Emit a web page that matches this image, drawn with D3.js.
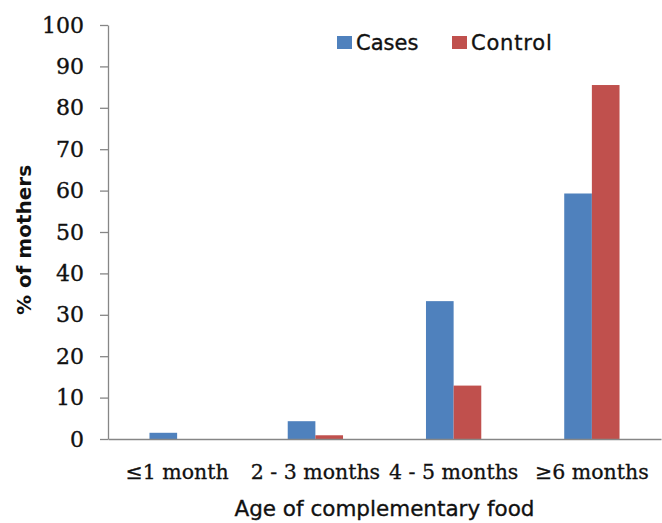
<!DOCTYPE html>
<html><head><meta charset="utf-8">
<script src="https://cdn.jsdelivr.net/npm/d3@7"></script>
<style>body{margin:0;background:#fff}</style>
</head><body>
<svg id="chart" width="662" height="523"></svg>
<script>
const categories = ["≤1 month", "2 - 3 months", "4 - 5 months", "≥6 months"];
const seriesNames = ["Cases", "Control"];
const cases = [1.5, 4.3, 33.3, 59.3];
const control = [0, 0.9, 12.9, 85.5];
const yTicks = [0, 10, 20, 30, 40, 50, 60, 70, 80, 90, 100];
const colors = ["#4F81BD", "#C0504D"];

const svg = d3.select("#chart");
const m = {left: 108, right: 661, top: 25, bottom: 439};
const x = d3.scaleBand().domain(categories).range([m.left, m.right]).paddingInner(0.6).paddingOuter(0.3);
const xs = d3.scaleBand().domain(seriesNames).range([0, x.bandwidth()]);
const y = d3.scaleLinear().domain([0, 100]).range([m.bottom, m.top]);

const serif = "'DejaVu Serif', serif";
const sans = "'DejaVu Sans', sans-serif";
const axisColor = "#868686";
const ink = "#111";

// bars
const data = [cases, control];
seriesNames.forEach((s, si) => {
  svg.append("g").selectAll("rect").data(categories).join("rect")
    .attr("x", (c) => x(c) + xs(s))
    .attr("width", xs.bandwidth())
    .attr("y", (c, i) => y(data[si][i]))
    .attr("height", (c, i) => y(0) - y(data[si][i]))
    .attr("fill", colors[si]);
});

// y axis
const ya = svg.append("g").attr("transform", `translate(${m.left},0)`)
  .call(d3.axisLeft(y).tickValues(yTicks).tickSize(8).tickPadding(16).tickSizeOuter(0));
ya.select(".domain").attr("stroke", axisColor).attr("stroke-width", 1.3);
ya.selectAll(".tick line").attr("stroke", axisColor).attr("stroke-width", 1.3);
ya.selectAll(".tick text").attr("font-family", serif).attr("font-size", 22).attr("fill", ink)
  .attr("stroke", ink).attr("stroke-width", 0.35);

// x axis
const xa = svg.append("g").attr("transform", `translate(0,${m.bottom})`)
  .call(d3.axisBottom(x).tickSize(0).tickPadding(25));
xa.select(".domain").attr("stroke", axisColor).attr("stroke-width", 1.3);
xa.selectAll(".tick text").attr("font-family", serif).attr("font-size", 20.5).attr("fill", ink)
  .attr("stroke", ink).attr("stroke-width", 0.3);

// axis titles
svg.append("text").attr("x", (m.left + m.right) / 2).attr("y", 516)
  .attr("text-anchor", "middle").attr("font-family", sans).attr("font-size", 21.5).attr("fill", ink)
  .attr("stroke", ink).attr("stroke-width", 0.35)
  .text("Age of complementary food");
svg.append("text").attr("transform", `translate(31,${240}) rotate(-90)`)
  .attr("text-anchor", "middle").attr("font-family", sans).attr("font-weight", "bold").attr("font-size", 20).attr("fill", ink)
  .text("% of mothers");

// legend
const legX = [337, 452];
seriesNames.forEach((s, i) => {
  svg.append("rect").attr("x", legX[i]).attr("y", 36).attr("width", 15).attr("height", 13).attr("fill", colors[i]);
  svg.append("text").attr("x", legX[i] + 19).attr("y", 50).attr("font-family", sans).attr("font-size", 21)
    .attr("letter-spacing", i === 1 ? 0.8 : 0).attr("fill", ink)
    .attr("stroke", ink).attr("stroke-width", 0.35).text(s);
});
</script>
</body></html>
